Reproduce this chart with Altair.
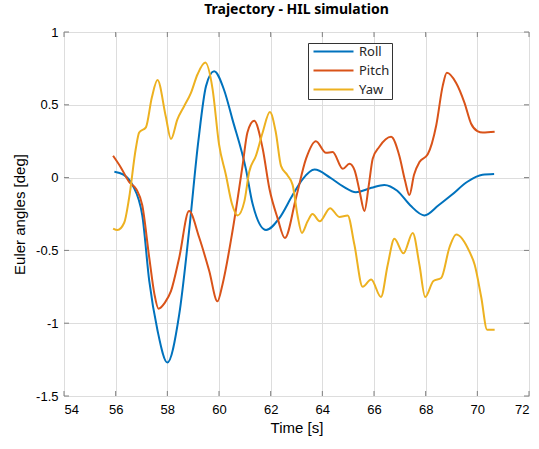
import altair as alt
import pandas as pd

series_names = ["Roll", "Pitch", "Yaw"]
series_colors = ["#0072BD", "#D95319", "#EDB120"]

roll_t = [55.95, 56.3, 56.65, 57.03, 57.3, 57.62, 58.0, 58.46, 58.84, 59.2, 59.5, 59.81,
          60.2, 60.52, 61.04, 61.3, 61.82, 62.33, 62.85, 63.24, 63.7, 64.3, 64.8, 65.3,
          65.9, 66.4, 66.9, 67.4, 67.95, 68.5, 69.0, 69.6, 70.2, 70.65]
roll_v = [0.04, 0.02, -0.05, -0.26, -0.71, -1.05, -1.27, -0.94, -0.37, 0.25, 0.63, 0.73,
          0.60, 0.40, 0.06, -0.18, -0.36, -0.28, -0.12, -0.01, 0.055, 0.0, -0.06, -0.10,
          -0.07, -0.05, -0.09, -0.19, -0.26, -0.19, -0.12, -0.03, 0.02, 0.025]

pitch_t = [55.9, 56.2, 56.52, 56.8, 57.03, 57.3, 57.5, 57.66, 57.9, 58.14, 58.46, 58.84,
           59.23, 59.62, 59.94, 60.14, 60.52, 60.91, 61.1, 61.36, 61.69, 61.95, 62.27,
           62.55, 62.98, 63.37, 63.75, 64.14, 64.4, 64.79, 65.05, 65.25, 65.45, 65.63,
           65.8, 65.95, 66.2, 66.66, 66.98, 67.2, 67.37, 67.55, 67.76, 68.08, 68.41,
           68.66, 68.82, 69.18, 69.5, 69.76, 70.0, 70.21, 70.67]
pitch_v = [0.15, 0.07, -0.03, -0.08, -0.19, -0.55, -0.80, -0.90, -0.86, -0.78, -0.55, -0.23,
           -0.41, -0.64, -0.85, -0.73, -0.37, 0.08, 0.31, 0.39, 0.20, -0.075, -0.28,
           -0.415, -0.14, 0.13, 0.25, 0.17, 0.175, 0.06, 0.095, 0.05, -0.10, -0.23,
           -0.05, 0.13, 0.21, 0.28, 0.15, -0.02, -0.12, 0.02, 0.107, 0.16, 0.36,
           0.63, 0.72, 0.65, 0.515, 0.37, 0.32, 0.31, 0.315]

yaw_t = [55.9, 56.07, 56.33, 56.52, 56.78, 56.91, 57.17, 57.4, 57.62, 57.94, 58.14, 58.39,
         58.65, 58.91, 59.17, 59.47, 59.75, 60.0, 60.27, 60.5, 60.72, 60.98, 61.17, 61.43,
         61.69, 61.97, 62.2, 62.4, 62.65, 62.85, 63.04, 63.21, 63.43, 63.62, 63.9, 64.3,
         64.66, 64.98, 65.24, 65.56, 65.89, 66.27, 66.53, 66.79, 67.14, 67.5, 67.76,
         67.98, 68.3, 68.6, 68.92, 69.18, 69.7, 69.9, 70.15, 70.38, 70.67]
yaw_v = [-0.35, -0.36, -0.31, -0.14, 0.2, 0.31, 0.345, 0.55, 0.67, 0.42, 0.265, 0.40,
         0.49, 0.58, 0.71, 0.79, 0.61, 0.23, 0.016, -0.18, -0.26, -0.165, 0.04, 0.15,
         0.31, 0.45, 0.31, 0.08, 0.016, -0.05, -0.26, -0.38, -0.30, -0.25, -0.30, -0.21,
         -0.27, -0.26, -0.46, -0.75, -0.70, -0.82, -0.60, -0.42, -0.52, -0.38, -0.60,
         -0.82, -0.71, -0.69, -0.48, -0.39, -0.51, -0.60, -0.82, -1.045, -1.045]

x_ticks = [54, 56, 58, 60, 62, 64, 66, 68, 70, 72]
y_ticks = [-1.5, -1, -0.5, 0, 0.5, 1]

rows = []
for name, ts, vs in [("Roll", roll_t, roll_v), ("Pitch", pitch_t, pitch_v), ("Yaw", yaw_t, yaw_v)]:
    for t, v in zip(ts, vs):
        rows.append({"t": t, "v": v, "series": name})
df = pd.DataFrame(rows)

W, H = 465, 364
FONT = "Noto Sans"
GRAY = "#808080"

xscale = alt.Scale(domain=[54, 72], nice=False, zero=False)
yscale = alt.Scale(domain=[-1.5, 1], nice=False, zero=False)

lines = alt.Chart(df).mark_line(strokeWidth=2, interpolate="monotone").encode(
    x=alt.X("t:Q", scale=xscale,
            axis=alt.Axis(values=x_ticks, title="Time [s]", ticks=False, domain=False,
                          labelPadding=7, titlePadding=4, labelFontSize=13,
                          titleFontSize=15, titleFontWeight="normal")),
    y=alt.Y("v:Q", scale=yscale,
            axis=alt.Axis(values=y_ticks, title="Euler angles [deg]", ticks=False, domain=False,
                          labelExpr="'' + datum.value", labelPadding=6, titlePadding=8,
                          labelFontSize=13, titleFontSize=15, titleFontWeight="normal")),
    color=alt.Color("series:N", scale=alt.Scale(domain=series_names, range=series_colors),
                    legend=alt.Legend(title=None, orient="none", legendX=244, legendY=11,
                                      symbolType="M-0.6,0H7.4", symbolSize=100, symbolStrokeWidth=2,
                                      labelOffset=36, labelFontSize=13, labelFont=FONT,
                                      labelColor="#262626", rowPadding=5, padding=2,
                                      strokeColor="#333333", fillColor="white")),
)

xt = pd.DataFrame({"t": x_ticks})
yt = pd.DataFrame({"v": y_ticks})
tick_bottom = alt.Chart(xt).mark_rule(color=GRAY).encode(x="t:Q", y=alt.value(H), y2=alt.value(H - 5))
tick_top = alt.Chart(xt).mark_rule(color=GRAY).encode(x="t:Q", y=alt.value(0), y2=alt.value(5))
tick_left = alt.Chart(yt).mark_rule(color=GRAY).encode(y="v:Q", x=alt.value(0), x2=alt.value(5))
tick_right = alt.Chart(yt).mark_rule(color=GRAY).encode(y="v:Q", x=alt.value(W), x2=alt.value(W - 5))

chart = alt.layer(lines, tick_bottom, tick_top, tick_left, tick_right).properties(
    width=W, height=H,
    title=alt.TitleParams("Trajectory - HIL simulation", fontSize=14, fontWeight="bold",
                          font=FONT, anchor="middle", offset=9, color="#000000"),
    autosize=alt.AutoSizeParams(type="none"),
    padding={"left": 64, "top": 32, "right": 10, "bottom": 53},
).configure_view(stroke=GRAY, strokeWidth=1).configure_axis(
    labelFont=FONT, titleFont=FONT, labelColor="#262626", titleColor="#262626",
    gridColor="#e3e3e3", gridWidth=1
).configure(background="white")

chart.save("out.html", embed_options={"renderer": "svg", "actions": False})
